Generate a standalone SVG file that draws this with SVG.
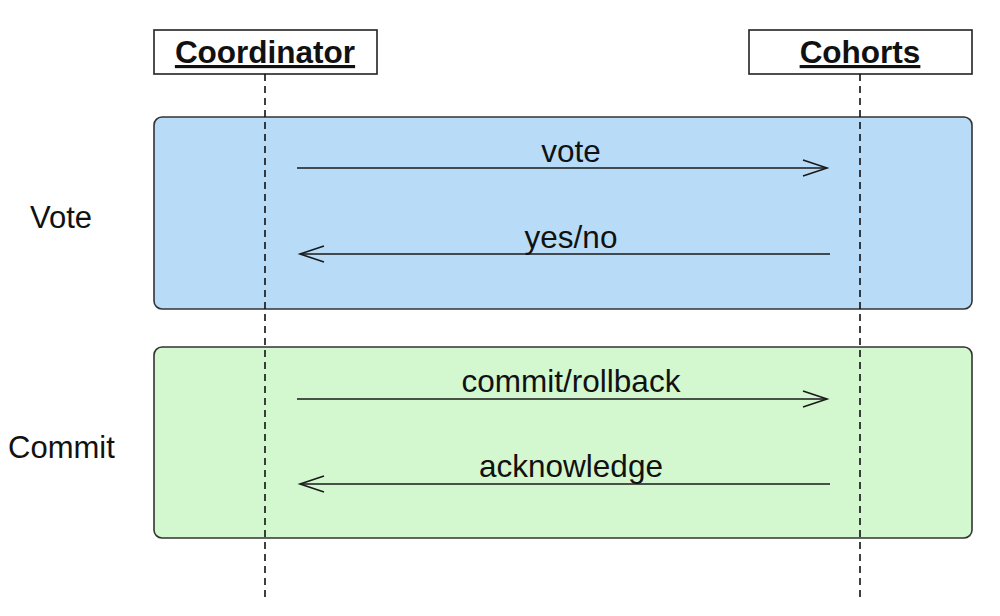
<svg xmlns="http://www.w3.org/2000/svg" width="1000" height="616" viewBox="0 0 1000 616">
<style>
text{font-family:"Liberation Sans",Arial,sans-serif;fill:#111;}
.lbl{font-size:31.5px;text-anchor:middle;}
.title{font-size:31.5px;font-weight:bold;text-anchor:middle;text-decoration:underline;}
.side{font-size:31px;}
.msg{stroke:#1a1a1a;stroke-width:1.6;fill:none;}
.life{stroke:#111;stroke-width:1.6;stroke-dasharray:7,5;fill:none;}
.head{stroke:#1a1a1a;stroke-width:1.6;fill:none;}
</style>
<rect width="1000" height="616" fill="#fff"/>
<g id="vote-phase">
<rect x="154" y="117" width="818" height="192" rx="8" fill="#b8dcf7" stroke="#333" stroke-width="1.6"/>
<text class="side" x="30" y="228">Vote</text>
</g>
<g id="commit-phase">
<rect x="154" y="347" width="818" height="191" rx="8" fill="#d3f7cf" stroke="#333" stroke-width="1.6"/>
<text class="side" x="8" y="458">Commit</text>
</g>
<g id="coordinator">
<rect x="154" y="30" width="223" height="44" fill="#fff" stroke="#222" stroke-width="1.6"/>
<text class="title" x="265" y="63">Coordinator</text>
</g>
<g id="cohorts">
<rect x="749" y="30" width="223" height="44" fill="#fff" stroke="#222" stroke-width="1.6"/>
<text class="title" x="860" y="63">Cohorts</text>
</g>
<g id="connectors">
<line class="life" x1="265" y1="74" x2="265" y2="598"/>
<line class="life" x1="860" y1="74" x2="860" y2="598"/>
<line class="msg" x1="297" y1="168" x2="827" y2="168"/>
<polyline class="head" points="803,160 827,168 803,176"/>
<text class="lbl" x="571" y="162">vote</text>
<line class="msg" x1="830" y1="254" x2="300" y2="254"/>
<polyline class="head" points="324,246 300,254 324,262"/>
<text class="lbl" x="571" y="248">yes/no</text>
<line class="msg" x1="297" y1="399" x2="827" y2="399"/>
<polyline class="head" points="803,391 827,399 803,407"/>
<text class="lbl" x="571" y="392">commit/rollback</text>
<line class="msg" x1="830" y1="484" x2="300" y2="484"/>
<polyline class="head" points="324,476 300,484 324,492"/>
<text class="lbl" x="571" y="477">acknowledge</text>
</g>
</svg>
